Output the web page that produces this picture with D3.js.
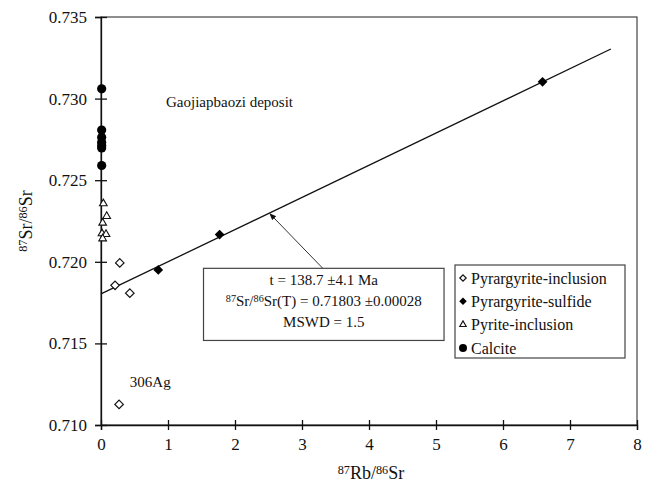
<!DOCTYPE html>
<html>
<head>
<meta charset="utf-8">
<script src="https://cdn.jsdelivr.net/npm/d3@7"></script>
<style>
  body { margin: 0; background: #fff; }
  svg, svg text { font-family: "Liberation Serif", "Times New Roman", Times, "DejaVu Serif", serif; }
</style>
</head>
<body>
<div id="chart"></div>
<script>
// values
const pyrargyriteInclusion = [[0.28, 0.71993], [0.21, 0.71856], [0.43, 0.71808], [0.27, 0.71126]];
const pyrargyriteSulfide = [[0.855, 0.71950], [1.77, 0.72167], [6.59, 0.73103]];
const pyriteInclusion = [[0.035, 0.72357], [0.085, 0.72279], [0.025, 0.72238], [0.015, 0.72173], [0.075, 0.72169], [0.025, 0.72142]];
const calcite = [[0.01, 0.73060], [0.01, 0.72807], [0.01, 0.72763], [0.01, 0.72733], [0.01, 0.72712], [0.01, 0.72698], [0.01, 0.72590]];
const isochron = [[0, 0.71803], [7.61, 0.73304]];

const xTicks = [0, 1, 2, 3, 4, 5, 6, 7, 8];
const yTicks = [0.710, 0.715, 0.720, 0.725, 0.730, 0.735];
const legendLabels = ["Pyrargyrite-inclusion", "Pyrargyrite-sulfide", "Pyrite-inclusion", "Calcite"];
const resultLines = ["t = 138.7 \u00b14.1 Ma", "SR", "MSWD = 1.5"];

const width = 649, height = 484;
const margin = {top: 17, right: 12, bottom: 59, left: 101};

const svg = d3.select("#chart").append("svg")
  .attr("width", width)
  .attr("height", height);

const x = d3.scaleLinear().domain([0, 8]).range([margin.left, width - margin.right]);
const y = d3.scaleLinear().domain([0.710, 0.735]).range([height - margin.bottom, margin.top]);

// frame
svg.append("rect")
  .attr("x", x(0)).attr("y", y(0.735))
  .attr("width", x(8) - x(0)).attr("height", y(0.710) - y(0.735))
  .attr("fill", "none").attr("stroke", "#444").attr("stroke-width", 1.2);

// axes, ticks cross the axis line
const xAxis = svg.append("g")
  .attr("transform", `translate(0,${y(0.710)})`)
  .call(d3.axisBottom(x).tickValues(xTicks).tickFormat(d3.format("d")).tickSize(5).tickPadding(8));
xAxis.selectAll(".tick line").attr("y1", -5);

const yAxis = svg.append("g")
  .attr("transform", `translate(${x(0)},0)`)
  .call(d3.axisLeft(y).tickValues(yTicks).tickFormat(d3.format(".3f")).tickSize(6).tickPadding(8));
yAxis.selectAll(".tick line").attr("x1", 6);

[xAxis, yAxis].forEach(a => {
  a.attr("font-family", null);
  a.select(".domain").attr("stroke", "#111").attr("stroke-width", 1.3);
  a.selectAll(".tick line").attr("stroke", "#111").attr("stroke-width", 1.3);
  a.selectAll("text").attr("font-size", 17).attr("fill", "#111");
});

// text with superscripts
function richText(sel, parts, size) {
  parts.forEach(([t, sup]) => {
    sel.append("tspan")
      .attr("font-size", sup ? size * 0.68 : size)
      .attr("baseline-shift", sup ? "45%" : null)
      .text(t);
  });
}
const srRatio = [["87", 1], ["Sr/", 0], ["86", 1], ["Sr", 0]];

richText(svg.append("text")
    .attr("x", (x(0) + x(8)) / 2 + 2).attr("y", 479)
    .attr("text-anchor", "middle").attr("fill", "#111"),
  [["87", 1], ["Rb/", 0], ["86", 1], ["Sr", 0]], 18);

richText(svg.append("text")
    .attr("transform", `translate(32,${(y(0.710) + y(0.735)) / 2}) rotate(-90)`)
    .attr("text-anchor", "middle").attr("fill", "#111"),
  srRatio, 18);

// isochron
svg.append("path")
  .datum(isochron)
  .attr("d", d3.line().x(d => x(d[0])).y(d => y(d[1])))
  .attr("stroke", "#111").attr("stroke-width", 1.3).attr("fill", "none");

// markers
const diamond = d3.symbol().type(d3.symbolDiamond2).size(46)();
svg.append("g").selectAll("path")
  .data(pyrargyriteInclusion).join("path")
  .attr("transform", d => `translate(${x(d[0])},${y(d[1])})`)
  .attr("d", diamond).attr("fill", "#fff").attr("stroke", "#111").attr("stroke-width", 1.2);

svg.append("g").selectAll("path")
  .data(pyriteInclusion).join("path")
  .attr("transform", d => `translate(${x(d[0])},${y(d[1])})`)
  .attr("d", d3.symbol().type(d3.symbolTriangle2).size(42)())
  .attr("fill", "#fff").attr("stroke", "#111").attr("stroke-width", 1.1);

svg.append("g").selectAll("circle")
  .data(calcite).join("circle")
  .attr("cx", d => x(d[0])).attr("cy", d => y(d[1]))
  .attr("r", 4.6).attr("fill", "#000");

svg.append("g").selectAll("path")
  .data(pyrargyriteSulfide).join("path")
  .attr("transform", d => `translate(${x(d[0])},${y(d[1])})`)
  .attr("d", d3.symbol().type(d3.symbolDiamond2).size(60)()).attr("fill", "#000");

// labels
svg.append("text")
  .attr("x", x(0.97)).attr("y", y(0.7295))
  .attr("font-size", 15).attr("fill", "#111")
  .text("Gaojiapbaozi deposit");

svg.append("text")
  .attr("x", x(0.43)).attr("y", y(0.7123))
  .attr("font-size", 15).attr("fill", "#111")
  .text("306Ag");

// arrow to the isochron
svg.append("defs").append("marker")
  .attr("id", "head").attr("viewBox", "0 0 10 10")
  .attr("refX", 9).attr("refY", 5)
  .attr("markerWidth", 7).attr("markerHeight", 7)
  .attr("orient", "auto")
  .append("path").attr("d", "M0,1L10,5L0,9Z").attr("fill", "#111");

svg.append("line")
  .attr("x1", x(3.31)).attr("y1", y(0.7196))
  .attr("x2", x(2.52)).attr("y2", y(0.72295))
  .attr("stroke", "#333").attr("stroke-width", 1)
  .attr("marker-end", "url(#head)");

// result box
const bx0 = x(1.53), bx1 = x(5.12), by0 = y(0.7196), by1 = y(0.71518);
svg.append("rect")
  .attr("x", bx0).attr("y", by0).attr("width", bx1 - bx0).attr("height", by1 - by0)
  .attr("fill", "#fff").attr("stroke", "#444").attr("stroke-width", 1.2);

resultLines.forEach((t, i) => {
  const tx = svg.append("text")
    .attr("x", (bx0 + bx1) / 2).attr("y", by0 + 17 + i * 21)
    .attr("text-anchor", "middle").attr("fill", "#111").attr("font-size", 15);
  if (t === "SR") richText(tx, srRatio.concat([["(T) = 0.71803 \u00b10.00028", 0]]), 15);
  else tx.text(t);
});

// legend
const legend = svg.append("g").attr("transform", "translate(455,265)");
legend.append("rect")
  .attr("width", 170).attr("height", 93)
  .attr("fill", "#fff").attr("stroke", "#444").attr("stroke-width", 1.2);

const legendMarks = [
  g => g.append("path").attr("d", d3.symbol().type(d3.symbolDiamond2).size(26)()).attr("fill", "#fff").attr("stroke", "#111").attr("stroke-width", 1.2),
  g => g.append("path").attr("d", d3.symbol().type(d3.symbolDiamond2).size(36)()).attr("fill", "#000"),
  g => g.append("path").attr("d", d3.symbol().type(d3.symbolTriangle2).size(30)()).attr("fill", "#fff").attr("stroke", "#111").attr("stroke-width", 1.1),
  g => g.append("circle").attr("r", 4).attr("fill", "#000")
];

legendLabels.forEach((label, i) => {
  const row = legend.append("g").attr("transform", `translate(0,${13 + i * 23.3})`);
  legendMarks[i](row.append("g").attr("transform", "translate(8,0)"));
  row.append("text")
    .attr("x", 16).attr("dy", "0.35em")
    .attr("font-size", 16).attr("fill", "#111")
    .text(label);
});
</script>
</body>
</html>
